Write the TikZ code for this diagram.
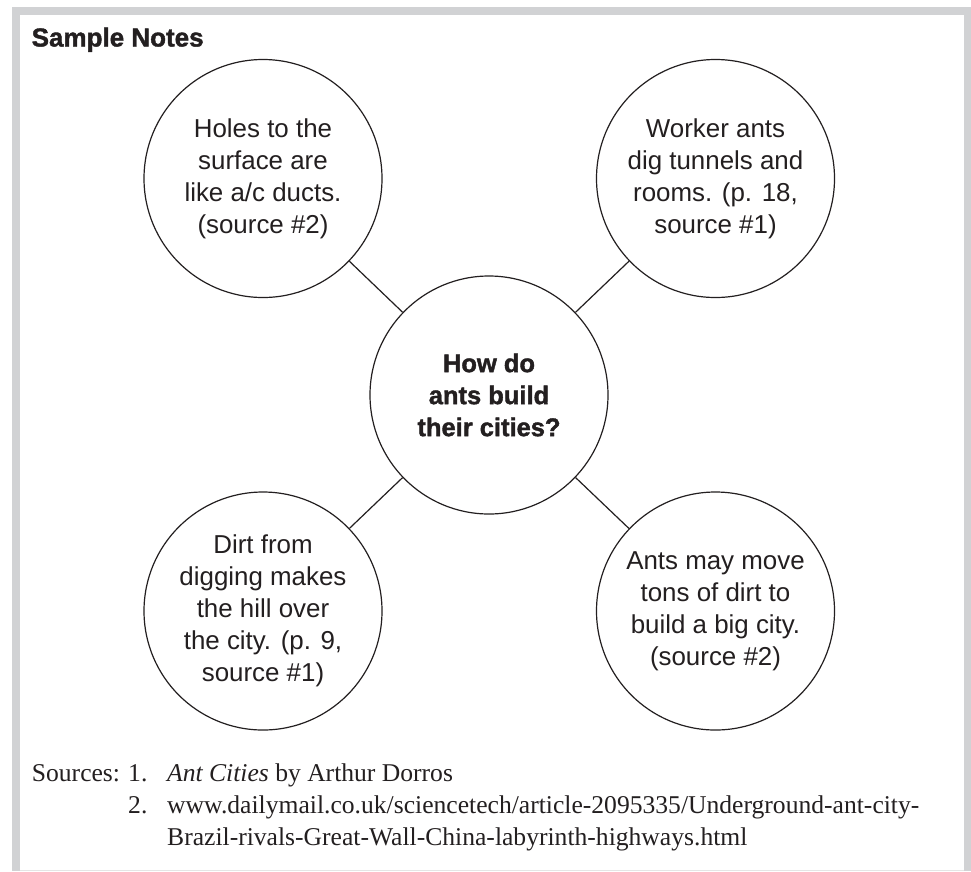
\documentclass[tikz,border=0pt]{standalone}
\usepackage{fontspec}
\setmainfont{Liberation Serif}
\newfontfamily\circfont{Liberation Sans}
\newfontfamily\heavyfont{Liberation Sans}[BoldFeatures={FakeBold=1.5}]
\definecolor{framegray}{HTML}{D1D2D4}
\definecolor{ink}{HTML}{231F20}
\begin{document}
\begin{tikzpicture}[x=1pt,y=-1pt,
  bubble/.style={circle,draw=ink,line width=1.2pt,minimum size=238pt,inner sep=0pt,align=center,text=ink,font=\circfont\fontsize{25.9}{32}\selectfont},
  hub/.style={bubble,font=\heavyfont\bfseries\fontsize{25.5}{32}\selectfont},
  link/.style={draw=ink,line width=1.2pt},
  src/.style={anchor=base west,inner sep=0pt,text=ink,font=\fontsize{25.6}{32}\selectfont}]
\useasboundingbox (0,0) rectangle (971,871);
\fill[white] (0,0) rectangle (971,871);
% frame
\fill[framegray] (12,7) rectangle (971,15);
\fill[framegray] (12,7) rectangle (20,871);
\fill[framegray] (964,7) rectangle (971,871);
\fill[black!10] (20,869.5) rectangle (964,871);
% title
\node[anchor=base west,inner sep=0pt,text=ink,font=\heavyfont\bfseries\fontsize{26}{30}\selectfont] (title) at (31.5,46.5) {Sample Notes};
% bubbles
\node[hub] (c) at (489,395) {How do\\ants build\\their cities?};
\node[bubble] (tl) at (263,178.5) {Holes to the\\surface are\\like a/c ducts.\\(source \#2)};
\node[bubble] (tr) at (715.5,178.5) {Worker ants\\dig tunnels and\\rooms. (p. 18,\\source \#1)};
\node[bubble] (bl) at (263,611) {Dirt from\\digging makes\\the hill over\\the city. (p. 9,\\source \#1)};
\node[bubble] (br) at (715.5,611) {Ants may move\\tons of dirt to\\build a big city.\\(source \#2)};
\draw[link] (tl) -- (c);
\draw[link] (tr) -- (c);
\draw[link] (bl) -- (c);
\draw[link] (br) -- (c);
% sources
\node[src] (srclbl) at (31.7,781) {Sources:};
\node[src] (n1) at (128,781) {1.};
\node[src] (s1) at (167,781) {\textit{Ant Cities} by Arthur Dorros};
\node[src] (n2) at (128,813) {2.};
\node[src] (s2) at (167,813) {www.dailymail.co.uk/sciencetech/article-2095335/Underground-ant-city-};
\node[src] (s3) at (167,845) {Brazil-rivals-Great-Wall-China-labyrinth-highways.html};
\end{tikzpicture}
\end{document}
